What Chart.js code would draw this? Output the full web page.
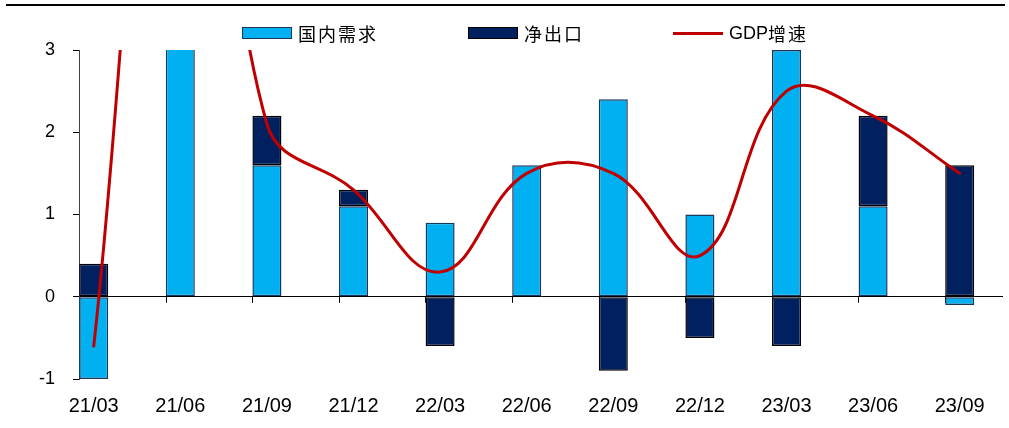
<!DOCTYPE html>
<html>
<head>
<meta charset="utf-8">
<script src="https://cdn.jsdelivr.net/npm/chart.js@4/dist/chart.umd.min.js"></script>
<style>
  html, body { margin: 0; padding: 0; background: #fff; }
  #wrap { position: relative; width: 1009px; height: 428px; overflow: hidden; }
  #top-rule { position: absolute; left: 6px; right: 4px; top: 4px; height: 2px; background: #000; }
  #legend { position: absolute; top: 20px; left: 0; width: 1009px; height: 26px; }
  .item { position: absolute; top: 0; height: 26px; display: flex; align-items: center;
    font: 18px "Noto Sans CJK SC", "Liberation Sans", sans-serif; color: #000; letter-spacing: 2px; }
  .item .gdp { font-family: "Liberation Sans", Arial, sans-serif; letter-spacing: 0; }
  .swatch { width: 48px; height: 10px; margin-right: 6px; border: 1px solid #17375e; }
  .stroke { width: 50px; height: 3px; margin-right: 6px; background: #c00000; }
</style>
</head>
<body>
<div id="wrap">
  <canvas id="chart" width="1009" height="428"></canvas>
  <div id="top-rule"></div>
  <div id="legend">
    <div class="item" style="left:242px"><span class="swatch" style="background:#00b0f0"></span>国内需求</div>
    <div class="item" style="left:468px"><span class="swatch" style="background:#002060;border-color:#000"></span>净出口</div>
    <div class="item" style="left:673px"><span class="stroke"></span><span class="gdp">GDP</span>增速</div>
  </div>
</div>
<script>
const quarters = ['21/03', '21/06', '21/09', '21/12', '22/03', '22/06', '22/09', '22/12', '23/03', '23/06', '23/09'];
const domesticDemand = [-1.0, 8.8, 1.6, 1.1, 0.9, 1.6, 2.4, 1.0, 3.0, 1.1, -0.1];
const netExports = [0.4, 0.0, 0.6, 0.2, -0.6, 0.0, -0.9, -0.5, -0.6, 1.1, 1.6];
const gdpGrowth = [-0.6, 8.8, 2.1, 1.3, 0.3, 1.5, 1.5, 0.5, 2.5, 2.2, 1.5];
const yTicks = [-1, 0, 1, 2, 3];

Chart.defaults.font.family = '"Liberation Sans", Arial, sans-serif';
Chart.defaults.font.size = 18;
Chart.defaults.color = '#000';

const toPoints = (values) => values.map((v, i) => ({ x: i, y: v }));

// small downward tick marks on the zero line, at the left edge of each bar slot
const zeroTicks = {
  id: 'zeroTicks',
  beforeDatasetsDraw(chart) {
    const { ctx, scales: { x, y } } = chart;
    const y0 = y.getPixelForValue(0);
    ctx.save();
    ctx.strokeStyle = '#000';
    ctx.lineWidth = 1;
    quarters.forEach((_, i) => {
      if (i === 0) return;
      const px = Math.round(x.getPixelForValue(i - 0.17)) + 0.5;
      ctx.beginPath();
      ctx.moveTo(px, y0);
      ctx.lineTo(px, y0 + 6);
      ctx.stroke();
    });
    ctx.restore();
  },
};

const barClip = { left: 5, right: 5, top: 0, bottom: 5 };

new Chart(document.querySelector('#chart'), {
  data: {
    datasets: [
      {
        type: 'line',
        label: 'GDP增速',
        data: toPoints(gdpGrowth),
        borderColor: '#c00000',
        borderWidth: 3,
        borderCapStyle: 'round',
        tension: 0.4,
        pointRadius: 0,
        stack: 'gdp',
        order: 0,
        clip: barClip,
      },
      {
        type: 'bar',
        label: '国内需求',
        data: toPoints(domesticDemand),
        backgroundColor: '#00b0f0',
        borderColor: '#17375e',
        borderWidth: 1.5,
        borderSkipped: false,
        stack: 'bars',
        order: 1,
        clip: barClip,
      },
      {
        type: 'bar',
        label: '净出口',
        data: toPoints(netExports),
        backgroundColor: '#002060',
        borderColor: '#000',
        borderWidth: 1.5,
        borderSkipped: false,
        stack: 'bars',
        order: 1,
        clip: barClip,
      },
    ],
  },
  options: {
    responsive: false,
    animation: false,
    layout: { padding: { top: 50, right: 6, left: 0, bottom: 0 } },
    datasets: { bar: { categoryPercentage: 1, barPercentage: 0.335 } },
    plugins: { legend: { display: false }, tooltip: { enabled: false } },
    scales: {
      x: {
        type: 'linear',
        stacked: true,
        offset: false,
        min: -0.17,
        max: 10.5,
        afterBuildTicks: (scale) => { scale.ticks = quarters.map((_, i) => ({ value: i })); },
        afterFit: (scale) => { scale.height = 49; },
        grid: { display: false, drawTicks: false },
        border: { display: false },
        ticks: { padding: 15, font: { size: 20 }, maxRotation: 0, autoSkip: false, callback: (value) => quarters[value] },
      },
      y: {
        stacked: true,
        min: -1,
        max: 3,
        afterBuildTicks: (scale) => { scale.ticks = yTicks.map((v) => ({ value: v })); },
        afterFit: (scale) => { scale.width = 79; },
        grid: {
          color: (ctx) => (ctx.tick && ctx.tick.value === 0 ? '#000' : 'rgba(0,0,0,0)'),
          tickColor: '#000',
          tickLength: 6,
        },
        border: { display: true, color: '#404040' },
        ticks: { padding: 18 },
      },
    },
  },
  plugins: [zeroTicks],
});
</script>
</body>
</html>
